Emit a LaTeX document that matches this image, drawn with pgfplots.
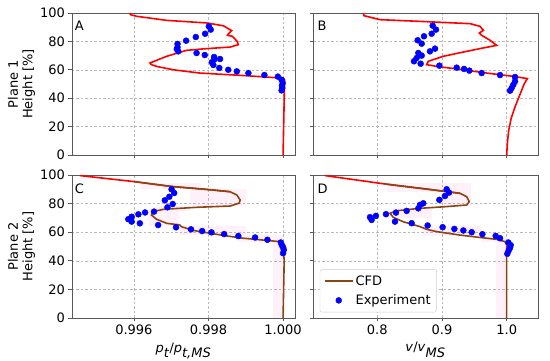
\documentclass[border=0pt]{standalone}
\usepackage{pgfplots}
\pgfplotsset{compat=1.18}
\usepackage{fontspec}
\setmainfont{DejaVu Sans}
\definecolor{cfdbrown}{RGB}{139,69,19}
\definecolor{bandpink}{RGB}{255,100,200}
\newcommand{\fs}{\fontsize{13}{14.5}\selectfont}
\newcommand{\band}[4]{\addplot[fill=bandpink, fill opacity=0.09, draw=none, forget plot] coordinates {(#1,#3) (#2,#3) (#2,#4) (#1,#4)} -- cycle;}
\pgfplotsset{
  panel/.style={
    scale only axis, anchor=south west,
    ymin=0, ymax=100, ytick={0,20,40,60,80,100},
    grid=major,
    grid style={gray!55, line width=0.5pt, dash pattern=on 2.5pt off 2pt},
    axis line style={black!65, line width=0.8pt},
    tick style={black!65, line width=0.8pt},
    tick align=outside, major tick length=3.5pt,
    xtick pos=bottom, ytick pos=left,
    ticklabel style={font=\fs},
    /pgf/number format/assume math mode=true,
    scaled x ticks=false,
    label style={font=\fs},
    clip=true,
  },
  pleft/.style={xmin=0.99434, xmax=1.00032, xtick={0.996,0.998,1.0},
    xticklabel style={/pgf/number format/.cd, fixed, fixed zerofill, precision=3}},
  pright/.style={xmin=0.7006, xmax=1.0484, xtick={0.8,0.9,1.0},
    xticklabel style={/pgf/number format/.cd, fixed, fixed zerofill, precision=1}},
  ylab/.style={ylabel style={at={(axis description cs:-0.226,0.5)}, anchor=center, align=center}},
  redline/.style={red, line width=1.6pt},
  brownline/.style={cfdbrown, line width=1.6pt},
  dots/.style={only marks, mark=*, mark size=3pt, mark options={fill=blue, draw=blue}},
  linelegend/.style={legend image code/.code={\draw[##1] (0pt,0pt) -- (28pt,0pt);}},
  dotlegend/.style={legend image code/.code={\draw[##1] plot coordinates {(14pt,0pt)};}},
}
\begin{document}
\begin{tikzpicture}[x=1pt,y=1pt]
\useasboundingbox (0,0) rectangle (550,361);

% ---------- A ----------
\begin{axis}[panel, pleft, ylab, at={(72pt,206pt)}, width=223pt, height=142pt,
  xticklabels={,,}, ylabel={Plane 1\\Height [\%]}]
\addplot[redline] coordinates {
(0.99589,100) (0.99591,98.8) (0.99607,97.7) (0.99688,94.8) (0.99795,93) (0.99840,91)
(0.99862,87.6) (0.99853,85.2) (0.99851,84.3) (0.99864,83.6) (0.99877,80) (0.99880,77.7)
(0.99858,76) (0.99795,74.9) (0.99741,73.7) (0.99688,69.5) (0.99643,64.8) (0.99647,63.6)
(0.99661,62.4) (0.99706,60) (0.99777,57.7) (0.99885,56.1) (0.99956,54.9) (1.00001,54)
(1.00004,53) (1.00003,39) (1.00000,0)};
\addplot[dots] coordinates {
(0.99801,90.6) (0.99806,88.3) (0.99791,85.4) (0.99766,83.1) (0.99740,80.5) (0.99717,78.2)
(0.99717,75.8) (0.99715,74.6) (0.99719,73) (0.99768,71.8) (0.99790,70.4) (0.99815,69)
(0.99831,67.6) (0.99815,67.1) (0.99809,65.3) (0.99813,63.4) (0.99829,61.3) (0.99853,60)
(0.99876,58.9) (0.99907,57.7) (0.99950,56.3) (0.99986,55.2) (0.99996,53) (0.99999,50.7)
(0.99997,48.8) (0.99998,47.2) (0.99996,45.5)};
\node[anchor=west, inner sep=0pt, font=\fs] at (rel axis cs:0.012,0.908) {A};
\end{axis}

% ---------- B ----------
\begin{axis}[panel, pright, at={(313pt,206pt)}, width=225pt, height=142pt,
  xticklabels={,,}, yticklabels={,,,,,}]
\addplot[redline] coordinates {
(0.7784,100) (0.7794,98.1) (0.8041,95.3) (0.866,94.1) (0.9433,92.5) (0.9588,90.6)
(0.964,87.8) (0.9577,85.9) (0.9613,84.3) (0.9742,80.8) (0.9845,77.2) (0.9639,75.4)
(0.9381,73) (0.9021,69.5) (0.8789,66) (0.8763,63.6) (0.8918,62.4) (0.9227,60.6)
(0.9691,57.7) (1.0103,55.4) (1.032,53.8) (1.027,50) (1.020,42) (1.013,34)
(1.007,26) (1.003,17) (1.001,8) (1.0,0)};
\addplot[dots] coordinates {
(0.8856,91.1) (0.8907,88.3) (0.884,85.4) (0.8722,83.6) (0.8624,80.8) (0.8686,78.4)
(0.8892,74.9) (0.8814,73) (0.8634,71.8) (0.8686,70) (0.8608,68.3) (0.8567,66)
(0.867,64.3) (0.8959,62.9) (0.9227,61.5) (0.934,60.6) (0.9423,59.4) (0.9613,57.7)
(0.9897,56.3) (1.0129,54.9) (1.0129,51.9) (1.0103,49.5) (1.0077,47.2) (1.0052,45.3)};
\node[anchor=west, inner sep=0pt, font=\fs] at (rel axis cs:0.02,0.908) {B};
\end{axis}

% ---------- C ----------
\begin{axis}[panel, pleft, ylab, at={(72pt,43pt)}, width=223pt, height=143pt,
  ylabel={Plane 2\\Height [\%]},
  xlabel={\textit{p}$_{\textit{t}}$/\textit{p}$_{\textit{t,MS}}$},
  xlabel style={at={(axis description cs:0.5,-0.232)}, anchor=center}]
\band{0.9962}{0.9978}{90.5}{94.5}
\band{0.9975}{0.9990}{78}{90.5}
\band{0.9966}{0.9975}{75}{78}
\band{0.9964}{0.9972}{64}{75}
\band{0.9972}{0.9990}{58}{64}
\band{0.9988}{1.0000}{53}{58}
\band{0.99972}{1.0000}{0}{53}
\addplot[redline] coordinates {
(0.99455,99.6) (0.99603,95.3) (0.99700,92.0) (0.99800,89.8) (0.99858,88.3)};
\addplot[brownline] coordinates {
(0.99603,95.3) (0.99700,92.0) (0.99800,89.8) (0.99858,88.3) (0.99876,86) (0.99885,82.5)
(0.99882,80.3) (0.99858,78.3) (0.99768,77.4) (0.99679,76.0) (0.99652,74.4) (0.99647,72.0)
(0.99661,69.0) (0.99688,66.2) (0.99710,65.5) (0.99722,65.2) (0.99728,63.8) (0.99760,61.2)
(0.99822,58.5) (0.99885,56.0) (0.99950,54.4) (0.99992,53.4) (1.00000,51.5) (1.00003,40)
(1.00000,0)};
\addplot[dots] coordinates {
(0.99701,90) (0.99708,87.4) (0.99695,84.8) (0.99683,82.3) (0.99704,79.7) (0.99690,77.4)
(0.99654,74.4) (0.99630,73.8) (0.99612,72.5) (0.99594,70.8) (0.99585,69.1) (0.99594,67.4)
(0.99616,66.2) (0.99665,65) (0.99713,63.4) (0.99753,62) (0.99783,60.8) (0.99808,59.9)
(0.99842,58.7) (0.99880,57.3) (0.99925,56.3) (0.99958,54.7) (0.99994,52.8) (0.99997,50.9)
(1.00000,49.5) (1.00002,47.7) (1.00000,45.3)};
\node[anchor=west, inner sep=0pt, font=\fs] at (rel axis cs:0.012,0.902) {C};
\end{axis}

% ---------- D ----------
\begin{axis}[panel, pright, at={(313pt,43pt)}, width=225pt, height=143pt,
  yticklabels={,,,,,},
  xlabel={\textit{v}/\textit{v}$_{\textit{MS}}$},
  xlabel style={at={(axis description cs:0.5,-0.222)}, anchor=center},
  legend style={at={(0.03,0.04)}, anchor=south west, draw=black!20, rounded corners=2pt,
    font=\fs, row sep=4pt, inner xsep=4pt, inner ysep=4pt},
  legend cell align=left]
\band{0.815}{0.945}{88}{94.5}
\band{0.900}{0.945}{78}{88}
\band{0.825}{0.885}{70}{77}
\band{0.870}{0.960}{57}{64}
\band{0.960}{1.000}{53}{57}
\band{0.983}{1.000}{0}{53}
\addplot[redline, forget plot] coordinates {
(0.7191,99.6) (0.8119,93.7) (0.8700,90.5) (0.9278,87.2)};
\addplot[brownline, linelegend] coordinates {
(0.8119,93.7) (0.8700,90.5) (0.9278,87.2) (0.9382,84.8) (0.9422,81.4) (0.9382,79.0)
(0.9073,77.9) (0.8660,76.7) (0.8300,75.0) (0.8196,73.2) (0.8247,70.4) (0.8402,67.3)
(0.8660,63.9) (0.8764,62.0) (0.8918,60.4) (0.9278,58.0) (0.9587,56.3) (0.9845,55.0)
(0.9974,53.4) (1.0000,51.0) (1.0000,0)};
\addlegendentry{CFD}
\addplot[dots, dotlegend] coordinates {
(0.9072,90) (0.9108,87.7) (0.9046,85.3) (0.8959,82.6) (0.8711,80.2) (0.8660,79.1)
(0.8634,76.7) (0.8454,74.9) (0.8289,73.7) (0.8134,72.6) (0.7979,71.4) (0.7887,70.5)
(0.7912,68.6) (0.8273,67.4) (0.8531,66.3) (0.8778,64.7) (0.9010,63.5) (0.9191,62.3)
(0.9330,61.2) (0.9459,60) (0.9624,58.6) (0.9830,57.4) (0.9897,55.8) (1.0026,52.8)
(1.0062,50.9) (1.0052,49.1) (1.0031,47.2) (1.0010,44.9)};
\addlegendentry{Experiment}
\node[anchor=west, inner sep=0pt, font=\fs] at (rel axis cs:0.02,0.907) {D};
\end{axis}
\end{tikzpicture}
\end{document}
